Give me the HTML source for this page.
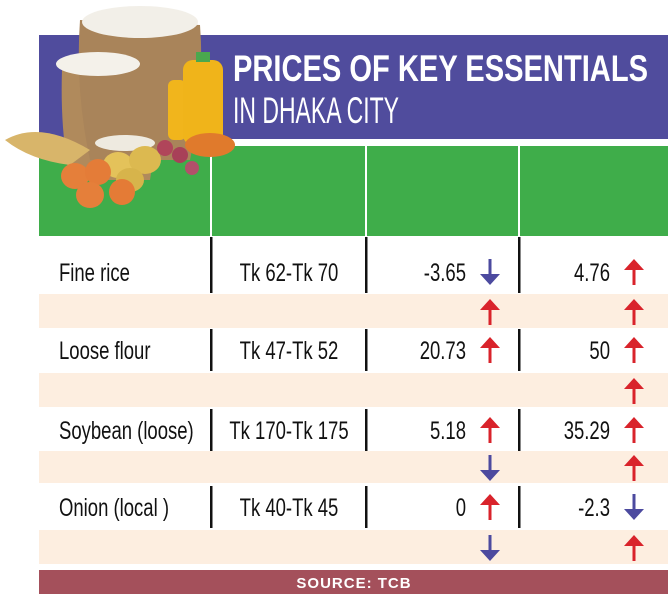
<!DOCTYPE html>
<html><head><meta charset="utf-8"><style>
body{margin:0;background:#fff;width:668px;height:597px;overflow:hidden}
svg{display:block}
text{font-family:"Liberation Sans Narrow","Liberation Sans",sans-serif}
</style></head><body>
<svg id="c" width="668" height="597" viewBox="0 0 668 597">
<rect x="39" y="35" width="629" height="104" fill="#504c9d"/>
<text x="233" y="81" fill="#fff" font-size="37" font-weight="bold" textLength="415" lengthAdjust="spacingAndGlyphs">PRICES OF KEY ESSENTIALS</text>
<text x="233" y="123" fill="#fff" font-size="37" textLength="166" lengthAdjust="spacingAndGlyphs">IN DHAKA CITY</text>
<rect x="39" y="146" width="629" height="90" fill="#3fad4a"/>
<g fill="#fff">
<rect x="210" y="146" width="2" height="90"/><rect x="365" y="146" width="2" height="90"/><rect x="518" y="146" width="2" height="90"/>
</g>
<g>
<path d="M62 70 Q60 130 70 180 L150 180 Q160 120 150 60 Z" fill="#b08a5c"/>
<path d="M80 20 Q75 90 90 160 L190 160 Q205 90 200 25 Z" fill="#a9845a"/>
<ellipse cx="140" cy="22" rx="58" ry="16" fill="#f2efe8"/>
<ellipse cx="98" cy="64" rx="42" ry="12" fill="#f4f1ea"/>
<rect x="168" y="80" width="18" height="60" rx="6" fill="#f1b51c"/>
<rect x="183" y="60" width="40" height="85" rx="10" fill="#f0b41a"/>
<rect x="196" y="52" width="14" height="10" fill="#4aa84e"/>
<ellipse cx="210" cy="145" rx="25" ry="12" fill="#e07a2c"/>
<path d="M5 140 Q40 120 90 150 L70 165 Q30 160 5 140Z" fill="#d8b56a"/>
<ellipse cx="125" cy="143" rx="30" ry="8" fill="#eeeae0"/>
<ellipse cx="118" cy="165" rx="15" ry="13" fill="#e4c25a"/><ellipse cx="145" cy="160" rx="16" ry="14" fill="#dcb950"/><ellipse cx="130" cy="180" rx="14" ry="12" fill="#d7b44b"/>
<circle cx="165" cy="148" r="8" fill="#b0455a"/><circle cx="180" cy="155" r="8" fill="#a84058"/><circle cx="192" cy="168" r="7" fill="#b2506a"/>
<ellipse cx="75" cy="176" rx="14" ry="13" fill="#e57f3a"/><ellipse cx="98" cy="172" rx="13" ry="13" fill="#e47c38"/><ellipse cx="90" cy="195" rx="14" ry="13" fill="#e57f3a"/><ellipse cx="122" cy="192" rx="13" ry="13" fill="#e47b36"/>
</g>
<g id="rows"></g>
<rect x="39" y="570" width="629" height="24" fill="#a4505b"/>
<text x="354" y="588" fill="#fff" font-size="15" font-weight="bold" text-anchor="middle" style="font-family:'Liberation Sans',sans-serif;letter-spacing:1px">SOURCE: TCB</text>
</svg>
<script>
const items=["Fine rice","Loose flour","Soybean (loose)","Onion (local )"];
const prices=["Tk 62-Tk 70","Tk 47-Tk 52","Tk 170-Tk 175","Tk 40-Tk 45"];
const change1=["-3.65","20.73","5.18","0"];
const change2=["4.76","50","35.29","-2.3"];
const dir1=["down","up","up","up"];
const dir2=["up","up","up","down"];
const subDir1=["up","","down","down"];
const subDir2=["up","up","up","up"];
const rowTops=[236,328,407,483];const rowBots=[294,373,451,530];const peachBots=[328,407,483,564];
const centers=[272,350,430,507];
const NS="http://www.w3.org/2000/svg";
const g=document.getElementById('rows');
function el(t,a,p){const e=document.createElementNS(NS,t);for(const k in a)e.setAttribute(k,a[k]);(p||g).appendChild(e);return e;}
function arrow(cx,cy,d){
  const e=el('path',{});
  if(d==='up'){e.setAttribute('d',`M${cx-10} ${cy-2} L${cx} ${cy-13} L${cx+10} ${cy-2} L${cx+1.5} ${cy-2} L${cx+1.5} ${cy+13} L${cx-1.5} ${cy+13} L${cx-1.5} ${cy-2}Z`);e.setAttribute('fill','#d9232b');}
  else{e.setAttribute('d',`M${cx-10} ${cy+2} L${cx} ${cy+13} L${cx+10} ${cy+2} L${cx+1.5} ${cy+2} L${cx+1.5} ${cy-13} L${cx-1.5} ${cy-13} L${cx-1.5} ${cy+2}Z`);e.setAttribute('fill','#4c4a9f');}
  
  
}
items.forEach((it,i)=>{
  const t=rowTops[i],b=rowBots[i],pb=peachBots[i],cy=centers[i];
  const p=el('rect',{x:39,y:b,width:629,height:pb-b,fill:'#fdeee0'});
  
  
  [210,365,518].forEach(x=>{const l=el('rect',{x:x,y:cy-35+ (i?14:0) ,width:2.5,height:i?42:56,fill:'#111'});
    
    });
  const mk=(x,txt,anchor,name)=>{const e=el('text',{x:x,y:cy+9,'font-size':25,fill:'#111','text-anchor':anchor});e.textContent=txt;
    
    
    const w=e.getComputedTextLength();e.setAttribute('textLength',(w*0.74).toFixed(1));e.setAttribute('lengthAdjust','spacingAndGlyphs');};
  mk(59,it,'start','item-name');
  mk(289,prices[i],'middle','price-range');
  mk(466,change1[i],'end','change-month');
  mk(610,change2[i],'end','change-year');
  arrow(490,cy,dir1[i]);arrow(634,cy,dir2[i]);
  const pc=(b+pb)/2+1;
  if(subDir1[i])arrow(490,pc,subDir1[i]);
  if(subDir2[i])arrow(634,pc,subDir2[i]);
});
</script>
</body></html>
